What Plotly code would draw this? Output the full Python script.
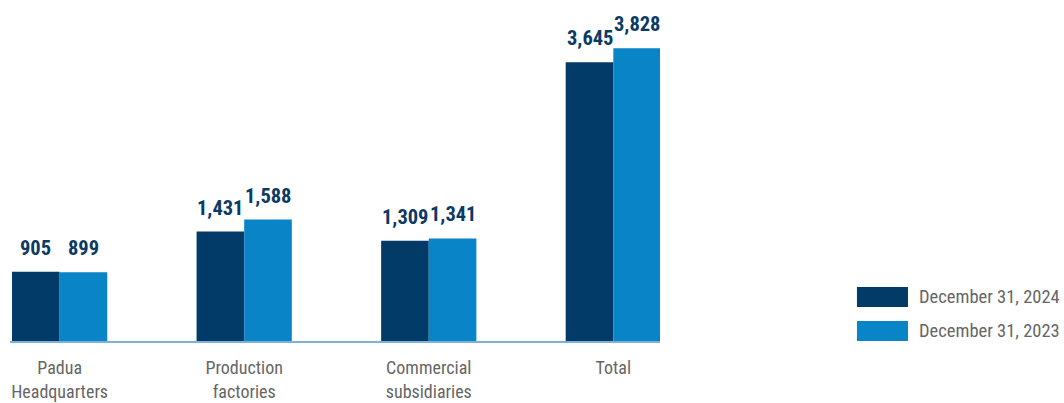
import plotly.graph_objects as go

# Headcount by location at two reporting dates
categories = ["Padua Headquarters", "Production factories", "Commercial subsidiaries", "Total"]
tick_labels = ["Padua<br>Headquarters", "Production<br>factories", "Commercial<br>subsidiaries", "Total"]
series_names = ["December 31, 2024", "December 31, 2023"]
values_2024 = [905, 1431, 1309, 3645]
values_2023 = [899, 1588, 1341, 3828]

DARK = "#023a68"
LIGHT = "#0884c7"
LABEL_NAVY = "#0b3a64"
GREY = "#666666"
FONT = "Roboto Condensed, Liberation Sans, sans-serif"

BARGAP = 0.484
bar_w = (1 - BARGAP) / 2

x_idx = list(range(len(categories)))

fig = go.Figure()
for name, vals, color in [(series_names[0], values_2024, DARK), (series_names[1], values_2023, LIGHT)]:
    fig.add_trace(go.Bar(x=x_idx, y=vals, name=name, marker=dict(color=color, line=dict(width=0)),
                         showlegend=False))

# value labels above each bar
annotations = []
for vals, off in [(values_2024, -bar_w / 2), (values_2023, bar_w / 2)]:
    for i, v in enumerate(vals):
        annotations.append(dict(x=i + off, y=v, xref="x", yref="y", text=f"{v:,}",
                                showarrow=False, yanchor="bottom", yshift=10,
                                font=dict(family=FONT, size=20.5, color=LABEL_NAVY, weight="bold")))

# legend drawn as swatches + text on the right
legend_items = [(series_names[0], DARK, 0.1765, 0.111), (series_names[1], LIGHT, 0.0654, 0.0)]
shapes = []
for name, color, y1, y0 in legend_items:
    shapes.append(dict(type="rect", xref="paper", yref="paper", x0=1.303, x1=1.3815, y0=y0, y1=y1,
                       fillcolor=color, line=dict(width=0)))
    annotations.append(dict(x=1.396, y=(y0 + y1) / 2, xref="paper", yref="paper", text=name,
                            showarrow=False, xanchor="left", yanchor="middle",
                            font=dict(family=FONT, size=18.5, color=GREY)))

fig.update_layout(
    width=1064, height=403,
    margin=dict(l=10, r=404, t=35, b=62, autoexpand=False),
    paper_bgcolor="white", plot_bgcolor="white",
    barmode="group", bargap=BARGAP, bargroupgap=0,
    annotations=annotations, shapes=shapes,
    font=dict(family=FONT),
)
fig.update_xaxes(range=[-0.269, 3.253], tickvals=x_idx, ticktext=tick_labels,
                 showline=True, linecolor="#7db1dc", linewidth=1.5, showgrid=False,
                 ticks="", ticklabelstandoff=10, ticklabeloverflow="allow", automargin=False,
                 tickfont=dict(family=FONT, size=18, color=GREY), zeroline=False)
fig.update_yaxes(range=[0, 4000], visible=False, showgrid=False, zeroline=False, automargin=False)

fig.write_html("out.html")
